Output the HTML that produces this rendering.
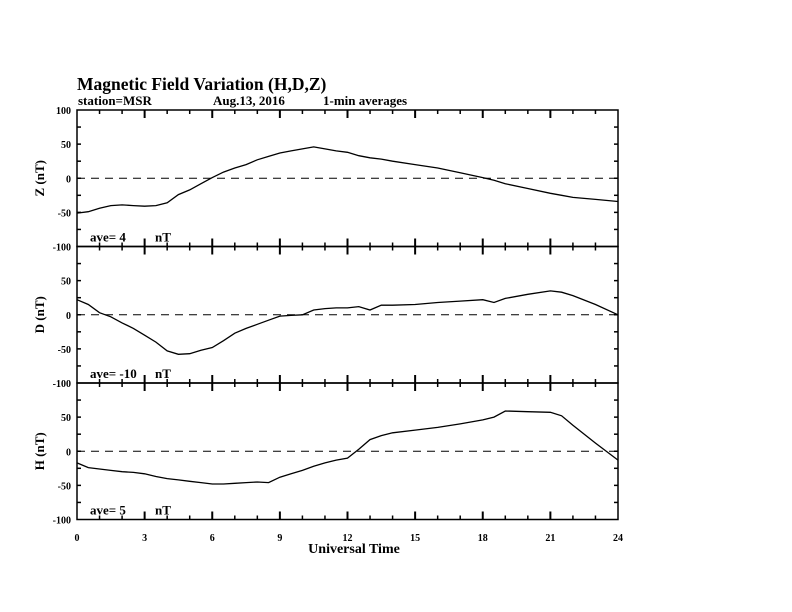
<!DOCTYPE html>
<html><head><meta charset="utf-8"><style>
body{margin:0;background:#fff}
svg{display:block;font-family:"Liberation Serif",serif}
</style></head><body>
<svg id="chart" width="792" height="612" viewBox="0 0 792 612" xmlns="http://www.w3.org/2000/svg">
<text x="77" y="90" font-size="17.5" font-weight="bold">Magnetic Field Variation (H,D,Z)</text>
<text x="78" y="105" font-size="13" font-weight="bold">station=MSR</text>
<text x="213" y="105" font-size="13" font-weight="bold">Aug.13, 2016</text>
<text x="323" y="105" font-size="13" font-weight="bold">1-min averages</text>
<text x="354" y="553" font-size="14" font-weight="bold" text-anchor="middle">Universal Time</text>
<g id="g"></g>
</svg>
<script>
const hours=[0,0.5,1,1.5,2,2.5,3,3.5,4,4.5,5,5.5,6,6.5,7,7.5,8,8.5,9,9.5,10,10.5,11,11.5,12,12.5,13,13.5,14,15,16,17,18,18.5,19,20,21,21.5,22,23,24];
const zVals=[-51,-49,-44,-40,-39,-40,-41,-40,-36,-24,-17,-8,1,9,15,20,27,32,37,40,43,46,43,40,38,33,30,28,25,20,15,8,1,-3,-8,-15,-22,-25,-28,-31,-34];
const dVals=[22,15,3,-3,-12,-20,-30,-40,-53,-58,-57,-52,-48,-38,-27,-20,-14,-8,-2,-1,0,7,9,10,10,12,7,14,14,15,18,20,22,18,24,30,35,33,28,15,0];
const hVals=[-17,-24,-26,-28,-30,-31,-33,-37,-40,-42,-44,-46,-48,-48,-47,-46,-45,-46,-38,-33,-28,-22,-17,-13,-10,3,17,23,27,31,35,40,46,50,59,58,57,52,38,12,-13];
const panels=[{name:'z',label:'Z (nT)',ave:'ave= 4',vals:zVals,top:110},{name:'d',label:'D (nT)',ave:'ave= -10',vals:dVals,top:246.5},{name:'h',label:'H (nT)',ave:'ave= 5',vals:hVals,top:383}];
const xTicks=[0,3,6,9,12,15,18,21,24];
const yTicks=[100,50,0,-50,-100];
const L=77,R=618,PH=136.5;
const xs=t=>L+(R-L)*t/24;
const NS='http://www.w3.org/2000/svg';
const g=document.getElementById('g');
function mk(tag,a,txt){const e=document.createElementNS(NS,tag);for(const k in a)e.setAttribute(k,a[k]);if(txt!==undefined)e.textContent=txt;g.appendChild(e);return e;}
panels.forEach(p=>{
 const ys=v=>p.top+PH*(100-v)/200;
 const f=mk('rect',{x:L,y:p.top,width:R-L,height:PH,fill:'none',stroke:'#000','stroke-width':1.5});
 
 
 const z=mk('line',{x1:L,x2:R,y1:ys(0),y2:ys(0),stroke:'#000','stroke-dasharray':'8,6'});
 
 
 for(let h=1;h<24;h++){const len=h%3===0?8:4;
  [[p.top,p.top+len],[p.top+PH,p.top+PH-len]].forEach(([a,b])=>{const t=mk('line',{x1:xs(h),x2:xs(h),y1:a,y2:b,stroke:'#000','stroke-width':h%3===0?2:1.5});
  
  });}
 for(let v=-75;v<=75;v+=25){[[L,L+4],[R,R-4]].forEach(([a,b])=>{const t=mk('line',{x1:a,x2:b,y1:ys(v),y2:ys(v),stroke:'#000','stroke-width':1.5});
  
  });}
 yTicks.forEach(v=>{if(p.name!=='z'&&v===100)return;const t=mk('text',{x:L-6,y:ys(v)+4,'font-size':10,'font-weight':'bold','text-anchor':'end'},String(v));
  
  });
 const yl=mk('text',{x:0,y:0,'font-size':13,'font-weight':'bold','text-anchor':'middle',transform:`translate(44,${p.top+PH/2}) rotate(-90)`},p.label);
 
 
 const av=mk('text',{x:90,y:p.top+PH-5,'font-size':13,'font-weight':'bold'},p.ave);
 
 
 const un=mk('text',{x:155,y:p.top+PH-5,'font-size':13,'font-weight':'bold'},'nT');
 
 
 const d=p.vals.map((v,i)=>(i?'L':'M')+xs(hours[i]).toFixed(1)+','+ys(v).toFixed(1)).join('');
 const ln=mk('path',{d:d,fill:'none',stroke:'#000','stroke-width':1.3});
 
 
});
xTicks.forEach(h=>{const t=mk('text',{x:xs(h),y:541,'font-size':10,'font-weight':'bold','text-anchor':'middle'},String(h));
 
 });
</script>
</body></html>
